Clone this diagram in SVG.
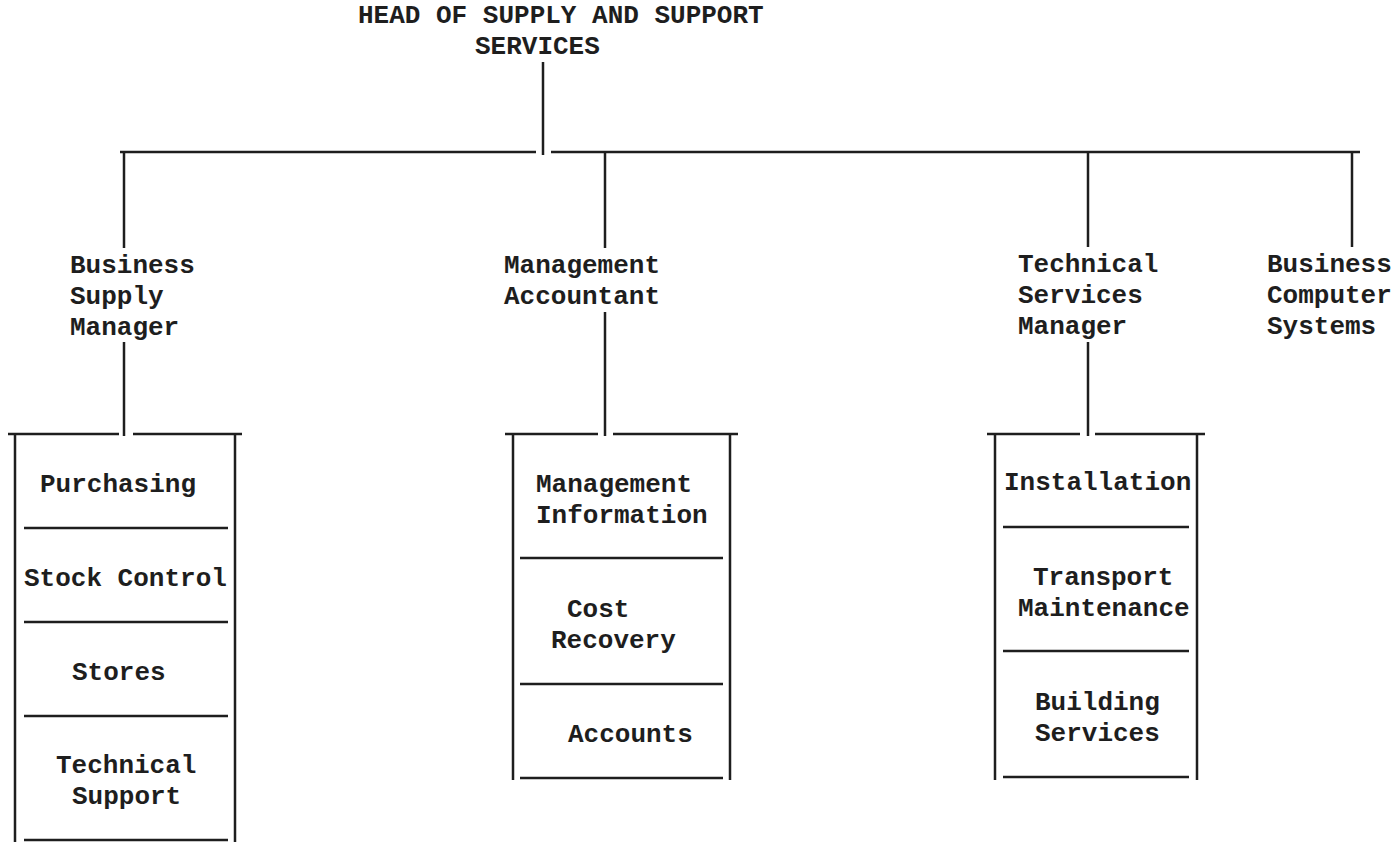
<svg xmlns="http://www.w3.org/2000/svg" width="1397" height="842" viewBox="0 0 1397 842">
<style>
text{font-family:"Liberation Mono","Courier New",monospace;font-weight:bold;font-size:26px;fill:#1e1e1e}
line{stroke:#1e1e1e;stroke-width:2.5;stroke-linecap:butt}
</style>
<rect width="1397" height="842" fill="#fff"/>
<g id="connectors">
<line x1="543" y1="62" x2="543" y2="155"/>
<line x1="120" y1="152" x2="536" y2="152"/>
<line x1="551" y1="152" x2="1360" y2="152"/>
<line x1="124" y1="152" x2="124" y2="248"/>
<line x1="605" y1="152" x2="605" y2="248"/>
<line x1="1088" y1="152" x2="1088" y2="247"/>
<line x1="1352" y1="152" x2="1352" y2="247"/>
<line x1="124" y1="342" x2="124" y2="436"/>
<line x1="605" y1="312" x2="605" y2="436"/>
<line x1="1088" y1="342" x2="1088" y2="436"/>
</g>
<g id="head">
<text x="358" y="23">HEAD OF SUPPLY AND SUPPORT</text>
<text x="475" y="54">SERVICES</text>
</g>
<g id="business-supply-manager">
<text x="70" y="273">Business</text>
<text x="70" y="304">Supply</text>
<text x="70" y="335">Manager</text>
</g>
<g id="management-accountant">
<text x="504" y="273">Management</text>
<text x="504" y="304">Accountant</text>
</g>
<g id="technical-services-manager">
<text x="1018" y="272">Technical</text>
<text x="1018" y="303">Services</text>
<text x="1018" y="334">Manager</text>
</g>
<g id="business-computer-systems">
<text x="1267" y="272">Business</text>
<text x="1267" y="303">Computer</text>
<text x="1267" y="334">Systems</text>
</g>
<g id="box-supply">
<line x1="8" y1="434" x2="119" y2="434"/>
<line x1="133" y1="434" x2="242" y2="434"/>
<line x1="15" y1="434" x2="15" y2="842"/>
<line x1="235" y1="434" x2="235" y2="842"/>
<line x1="24" y1="528" x2="228" y2="528"/>
<line x1="24" y1="622" x2="228" y2="622"/>
<line x1="24" y1="716" x2="228" y2="716"/>
<line x1="24" y1="840" x2="228" y2="840"/>
<text x="40" y="492">Purchasing</text>
<text x="24" y="586">Stock Control</text>
<text x="72" y="680">Stores</text>
<text x="56" y="773">Technical</text>
<text x="72" y="804">Support</text>
</g>
<g id="box-accountant">
<line x1="505" y1="434" x2="598" y2="434"/>
<line x1="613" y1="434" x2="738" y2="434"/>
<line x1="513" y1="434" x2="513" y2="780"/>
<line x1="730" y1="434" x2="730" y2="780"/>
<line x1="520" y1="558" x2="723" y2="558"/>
<line x1="520" y1="684" x2="723" y2="684"/>
<line x1="520" y1="778" x2="723" y2="778"/>
<text x="536" y="492">Management</text>
<text x="536" y="523">Information</text>
<text x="567" y="617">Cost</text>
<text x="551" y="648">Recovery</text>
<text x="568" y="742">Accounts</text>
</g>
<g id="box-technical">
<line x1="987" y1="434" x2="1080" y2="434"/>
<line x1="1095" y1="434" x2="1205" y2="434"/>
<line x1="995" y1="434" x2="995" y2="780"/>
<line x1="1197" y1="434" x2="1197" y2="780"/>
<line x1="1003" y1="527" x2="1189" y2="527"/>
<line x1="1003" y1="651" x2="1189" y2="651"/>
<line x1="1003" y1="777" x2="1189" y2="777"/>
<text x="1004" y="490">Installation</text>
<text x="1033" y="585">Transport</text>
<text x="1018" y="616">Maintenance</text>
<text x="1035" y="710">Building</text>
<text x="1035" y="741">Services</text>
</g>
</svg>
